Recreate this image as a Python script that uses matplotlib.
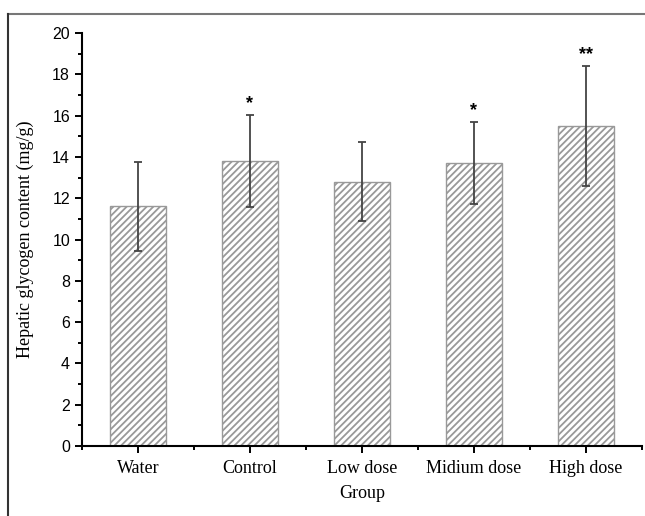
import matplotlib
matplotlib.use('Agg')
from matplotlib import pyplot as plt
from matplotlib.lines import Line2D
from matplotlib.ticker import MultipleLocator

grupos = ['Water', 'Control', 'Low dose', 'Midium dose', 'High dose']
medias = [11.6, 13.8, 12.8, 13.7, 15.5]
desv = [2.15, 2.25, 1.9, 2.0, 2.92]
marcas = ['', '*', '', '*', '**']

plt.rcParams['hatch.color'] = '#2e2e2e'
plt.rcParams['hatch.linewidth'] = 1.3

fig = plt.figure(figsize=(6.45, 5.16), dpi=100)
ax = fig.add_axes([0.127, 0.1357, 0.868, 0.8003])

pos = list(range(1, len(grupos) + 1))
ax.bar(pos, medias, width=0.5, color='white', edgecolor='#999999',
       linewidth=1.0, hatch='/////', zorder=2)
ax.errorbar(pos, medias, yerr=desv, fmt='none', ecolor='#444444',
            elinewidth=1.3, capsize=3, capthick=1.3, zorder=3)

for i in range(len(pos)):
    if marcas[i]:
        ax.text(pos[i], medias[i] + desv[i] + 0.12, marcas[i], ha='center',
                va='bottom', fontsize=13, fontweight='bold',
                family='Liberation Sans')

ax.set_xlim(0.5, 5.5)
ax.set_ylim(0, 20)
ax.set_xticks(pos)
ax.set_xticklabels(grupos, family='Liberation Serif', fontsize=13)
ax.xaxis.set_minor_locator(MultipleLocator(1, offset=0.5))
ax.yaxis.set_major_locator(MultipleLocator(2))
ax.yaxis.set_minor_locator(MultipleLocator(1))
for lab in ax.get_yticklabels():
    lab.set_family('Liberation Sans')
    lab.set_fontsize(11.5)

ax.tick_params(which='major', direction='out', length=5, width=1.4, color='black')
ax.tick_params(which='minor', direction='out', length=3, width=1.4, color='black')
ax.tick_params(axis='x', which='major', pad=5)

ax.spines['top'].set_visible(False)
ax.spines['right'].set_visible(False)
ax.spines['left'].set_linewidth(1.5)
ax.spines['bottom'].set_linewidth(1.5)

ax.set_xlabel('Group', family='Liberation Serif', fontsize=13, labelpad=6)
ax.set_ylabel('Hepatic glycogen content (mg/g)', family='Liberation Serif',
              fontsize=13, labelpad=13)

# marco de la figura
fig.add_artist(Line2D([8/645, 1], [1 - 14/516, 1 - 14/516], color='#777777', lw=1.5))
fig.add_artist(Line2D([8/645, 8/645], [0, 1 - 14/516], color='#333333', lw=1.5))

fig.savefig('out.png', dpi=100)
